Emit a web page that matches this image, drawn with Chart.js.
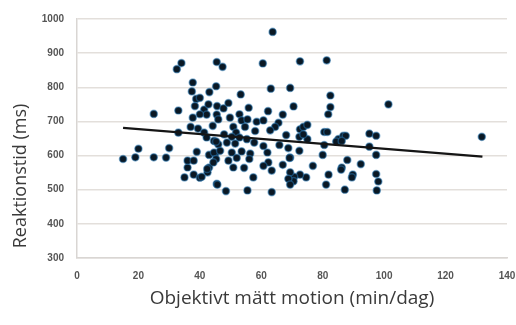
<!DOCTYPE html>
<html>
<head>
<meta charset="utf-8">
<script src="https://cdn.jsdelivr.net/npm/chart.js@4.4.0/dist/chart.umd.min.js"></script>
<style>
  html, body { margin: 0; padding: 0; background: #fff; }
  #wrap { width: 516px; height: 325px; position: relative; }
</style>
</head>
<body>
<div id="wrap"><canvas id="c"></canvas></div>
<script>
// Objective exercise (min/day) vs reaction time (ms)
const motion = [
  15, 19, 20, 25, 25, 29, 30, 33, 33, 35, 36, 36, 38, 37, 38, 39, 40, 43, 42.5, 45.5,
  32.5, 34, 37.7, 37.4, 38.8, 40, 38.4, 41.4, 42.2, 37.7, 39.4, 42.8, 43.1, 45.5, 45.3, 44.2,
  41.4, 42.2, 43, 45, 46, 44.6, 45.5, 45.6, 47.4, 63.7, 60.5, 72.6, 81.3, 63.1, 69.4, 53.3,
  82.5, 82.5, 81.8, 70.5, 62.2, 55.9, 67, 47.7, 49.3, 46, 49.8, 52.9, 53.6, 55.5, 58.5, 60.7,
  65.6, 64.5, 62.9, 58, 54.7, 50.9, 51.8, 72.6, 73.7, 75, 68.1, 80.5, 81.5, 75, 72.4, 85.1,
  86.7, 84.4, 80.5, 101.4, 131.8, 87.5, 86.2, 95.2, 97.4, 95.2, 97.4, 88, 92.4, 86.2, 87.2,
  97.6, 98.1, 97.4, 89.8, 89.5, 86, 73.7, 80, 72.4, 69.4, 76.8, 81.9, 81.1, 74.6, 72.6, 70.7,
  70.5, 69.4, 47.9, 50.4, 52.9, 55.3, 45.3, 48.8, 51.5, 57.7, 60.7, 65.9, 68.8, 44.6, 46.6,
  50.4, 53.6, 56.4, 62, 45.3, 49.3, 52, 56.1, 62.3, 67, 69.2, 44.4, 50.9, 54.4, 60.7, 42.4,
  57.4, 63.4, 68.8, 40.6, 45.7, 48.5, 55.5, 63.4, 69.4, 40
];
const reaktionstid = [
  590, 595, 620, 722, 595, 594, 622, 732, 667, 536, 565, 585, 585, 684, 544, 611, 535, 565, 551, 517,
  853, 871, 814, 788, 766, 769, 745, 735, 720, 711, 679, 750, 786, 874, 803, 687,
  667, 653, 602, 606, 633, 643, 720, 745, 860, 962, 870, 876, 879, 796, 798, 779,
  776, 742, 721, 744, 730, 740, 720, 738, 754, 706, 711, 721, 703, 706, 699, 703,
  696, 684, 674, 672, 684, 684, 667, 677, 684, 690, 660, 669, 669, 648, 655, 648,
  658, 641, 631, 750, 655, 658, 643, 664, 658, 626, 602, 587, 575, 565, 500,
  498, 524, 546, 544, 536, 559, 662, 602, 614, 594, 570, 544, 515, 536, 544, 538,
  525, 551, 662, 655, 653, 648, 641, 638, 635, 638, 628, 631, 622, 609, 614,
  609, 612, 606, 609, 590, 585, 593, 590, 580, 573, 593, 580, 565, 564, 570, 561,
  536, 556, 532, 538, 515, 496, 498, 493, 515, 721
];
// trend line ends
const trendX = [15, 132];
const trendY = [681, 597];

const xTicks = [0, 20, 40, 60, 80, 100, 120, 140];
const yTicks = [300, 400, 500, 600, 700, 800, 900, 1000];

const xTitle = 'Objektivt mätt motion (min/dag)';
const yTitle = 'Reaktionstid (ms)';

const points = motion.map((x, i) => ({ x: x, y: reaktionstid[i] }));
const trend = trendX.map((x, i) => ({ x: x, y: trendY[i] }));

// axis titles drawn by hand so they sit where the original has them
const titlesPlugin = {
  id: 'titles',
  afterDraw(chart) {
    const ctx = chart.ctx;
    const area = chart.chartArea;
    ctx.save();
    ctx.fillStyle = '#3a3a3a';
    ctx.textAlign = 'center';
    ctx.textBaseline = 'middle';
    ctx.font = '19px "Open Sans", sans-serif';
    ctx.fillText(xTitle, (area.left + area.right) / 2, 299);
    ctx.font = '18px "Open Sans", sans-serif';
    ctx.translate(21, 176);
    ctx.rotate(-Math.PI / 2);
    ctx.fillText(yTitle, 0, 0);
    ctx.restore();
  }
};

const tickFont = { family: '"Liberation Sans", sans-serif', size: 10, weight: 'bold' };

new Chart(document.getElementById('c'), {
  type: 'scatter',
  data: {
    datasets: [
      {
        type: 'line',
        data: trend,
        borderColor: '#151515',
        borderWidth: 2.2,
        pointRadius: 0,
        fill: false,
        order: 0
      },
      {
        data: points,
        backgroundColor: '#0a1824',
        borderColor: 'rgba(40,120,180,0.5)',
        borderWidth: 1.5,
        pointRadius: 3.6,
        order: 1
      }
    ]
  },
  options: {
    responsive: true,
    maintainAspectRatio: false,
    animation: false,
    layout: { padding: { top: 17, right: 0, left: 0, bottom: 0 } },
    plugins: {
      legend: { display: false },
      tooltip: { enabled: false }
    },
    scales: {
      x: {
        type: 'linear',
        min: 0,
        max: 140,
        afterBuildTicks(scale) { scale.ticks = xTicks.map(v => ({ value: v })); },
        afterFit(scale) {
          scale.height = 67;
          scale.paddingRight = 9;
        },
        grid: { display: false, drawTicks: false },
        border: { display: true, color: '#d9d6d3', width: 1.5 },
        ticks: {
          color: '#555',
          font: tickFont,
          padding: 12,
          callback: v => String(v)
        }
      },
      y: {
        type: 'linear',
        min: 300,
        max: 1000,
        afterBuildTicks(scale) { scale.ticks = yTicks.map(v => ({ value: v })); },
        afterFit(scale) { scale.width = 77; },
        grid: { color: '#e3dfdb', lineWidth: 1.5, drawTicks: false },
        border: { display: true, color: '#d9d6d3', width: 1.5 },
        ticks: {
          color: '#555',
          font: tickFont,
          padding: 13,
          callback: v => String(v)
        }
      }
    }
  },
  plugins: [titlesPlugin]
});
</script>
</body>
</html>
